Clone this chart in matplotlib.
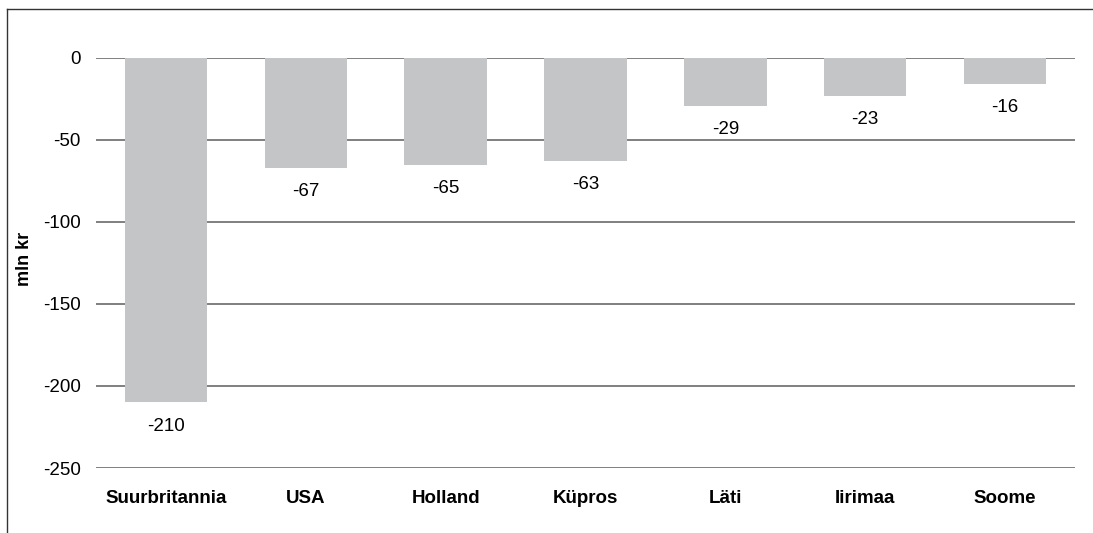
import matplotlib
matplotlib.use("Agg")
import matplotlib.pyplot as plt
from matplotlib.lines import Line2D

countries = ["Suurbritannia", "USA", "Holland", "Küpros", "Läti", "Iirimaa", "Soome"]
values = [-210, -67, -65, -63, -29, -23, -16]
yticks = [0, -50, -100, -150, -200, -250]

plt.rcParams["font.family"] = ["Liberation Sans", "DejaVu Sans"]

fig = plt.figure(figsize=(10.93, 5.33), dpi=100)
ax = fig.add_axes([96 / 1093, 1 - 468 / 533, (1075 - 96) / 1093, 410 / 533])

x = range(len(countries))
ax.bar(x, values, width=0.59, color="#c4c5c7", zorder=2)
ax.set_xlim(-0.5, len(countries) - 0.5)
ax.set_ylim(-250, 0)
ax.set_yticks(yticks)
ax.set_yticklabels([str(v) for v in yticks], fontsize=13.5)
ax.yaxis.grid(True, color="#7f7f7f", linewidth=1.4, zorder=1)
for s in ax.spines.values():
    s.set_visible(False)
ax.tick_params(axis="y", length=0, pad=11)
ax.tick_params(axis="x", length=0, pad=16)
ax.set_xticks(list(x))
ax.set_xticklabels(countries, fontsize=13.5, fontweight="bold")
ax.set_ylabel("mln kr", fontsize=13, fontweight="bold")
ax.yaxis.set_label_coords(-0.064, 0.51)

for xi, v in zip(x, values):
    ax.annotate(str(v), (xi, v), xytext=(0, -17), textcoords="offset points",
                ha="center", va="center", fontsize=13.5)

# outer frame (top and left edges)
fx = 7 / 1093
fy = 1 - 9 / 533
fig.add_artist(Line2D([fx, 1], [fy, fy], transform=fig.transFigure, color="#333333", linewidth=1.0))
fig.add_artist(Line2D([fx, fx], [0, fy], transform=fig.transFigure, color="#333333", linewidth=1.0))

fig.savefig("out.png", dpi=100)
